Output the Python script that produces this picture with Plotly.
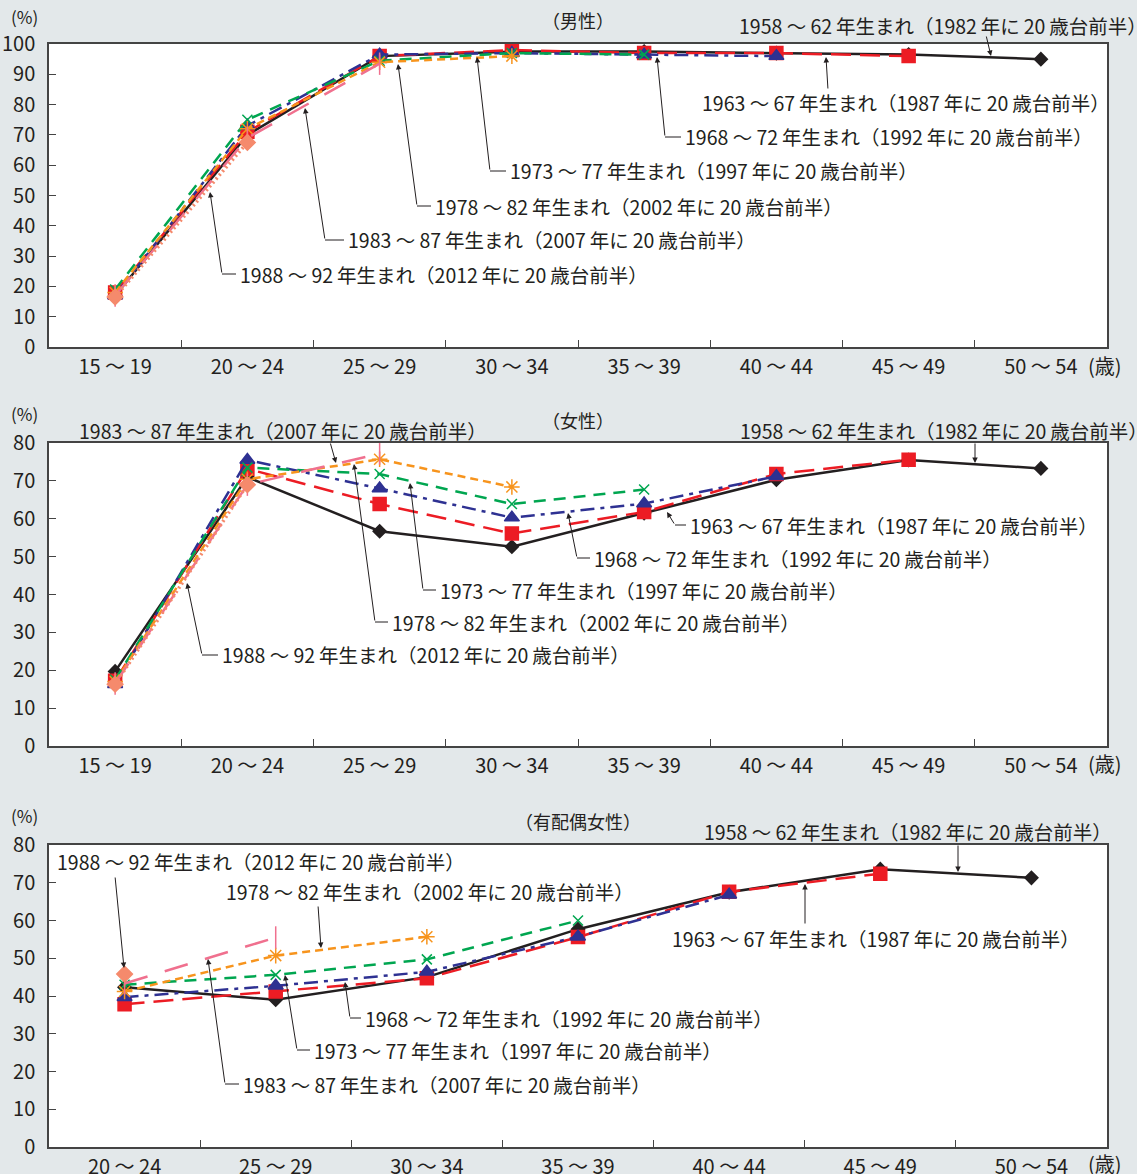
import plotly.graph_objects as go

# ---------------- data ----------------
ages8 = ["15 ～ 19", "20 ～ 24", "25 ～ 29", "30 ～ 34", "35 ～ 39", "40 ～ 44", "45 ～ 49", "50 ～ 54"]
ages7 = ages8[1:]

cohorts = ["1958 ～ 62", "1963 ～ 67", "1968 ～ 72", "1973 ～ 77", "1978 ～ 82", "1983 ～ 87", "1988 ～ 92"]
years20 = ["1982", "1987", "1992", "1997", "2002", "2007", "2012"]

N = None
male_1958 = [17, 70, 96, 97.5, 97.5, 97, 96.5, 95]
male_1963 = [18, 71, 96, 98, 97, 97, 96, N]
male_1968 = [17, 73, 96.5, 97, 96.5, 96, N, N]
male_1973 = [19, 75, 94.5, 97, 96.5, N, N, N]
male_1978 = [18, 72, 94, 96, N, N, N, N]
male_1983 = [17, 69, 93.5, N, N, N, N, N]
male_1988 = [16.5, 67.5, N, N, N, N, N, N]

female_1958 = [19.7, 71, 56.7, 52.6, 61.5, 70.3, 75.5, 73.3]
female_1963 = [17.2, 73.2, 63.9, 56.1, 61.8, 71.8, 75.6, N]
female_1968 = [16.3, 75.5, 68.0, 60.3, 64.0, 71.2, N, N]
female_1973 = [17.5, 73.5, 71.8, 63.9, 67.7, N, N, N]
female_1978 = [17.0, 70.4, 75.7, 68.4, N, N, N, N]
female_1983 = [16.5, 69.0, 77.2, N, N, N, N, N]
female_1988 = [16.3, 69.0, N, N, N, N, N, N]

married_1958 = [42.3, 39.0, 45.0, 57.7, 67.5, 73.6, 71.3]
married_1963 = [37.8, 41.2, 44.7, 55.6, 67.6, 72.4, N]
married_1968 = [39.7, 42.7, 46.4, 55.7, 66.8, N, N]
married_1973 = [43.0, 45.6, 49.7, 60.0, N, N, N]
married_1978 = [41.2, 50.7, 55.7, N, N, N, N]
married_1983 = [43.3, 55.5, N, N, N, N, N]
married_1988 = [45.8, N, N, N, N, N, N]

male = [male_1958, male_1963, male_1968, male_1973, male_1978, male_1983, male_1988]
female = [female_1958, female_1963, female_1968, female_1973, female_1978, female_1983, female_1988]
married = [married_1958, married_1963, married_1968, married_1973, married_1978, married_1983, married_1988]

# ---------------- styles ----------------
TXT = "#231f20"
BG = "#e3e8ea"
FONT = "Noto Sans CJK JP, Noto Sans, sans-serif"
colors = ["#231f20", "#ec1c24", "#2e3192", "#00a650", "#f7941d", "#f0708e", "#f58a6c"]
dashes = ["solid", "20px,9px", "14px,6px,4px,6px", "12px,8px", "8px,5px", "24px,18px", "2px,3px"]
widths = [2.5, 2.5, 2.5, 2.5, 2.5, 2.5, 3.5]
symbols = ["diamond", "square", "triangle-up", "x-thin-open", "asterisk-open", "line-ns-open", "diamond"]
msizes = [10, 13, 13, 10, 13, 16, 12]

def label(i):
    return cohorts[i] + "\u2009年生まれ（" + years20[i] + "\u2009年に\u200920\u2009歳台前半）"

fig = go.Figure()
panels = [(male, ages8, "x", "y"), (female, ages8, "x2", "y2"), (married, ages7, "x3", "y3")]
for data, cats, xa, ya in panels:
    for i, vals in enumerate(data):
        fig.add_trace(go.Scatter(
            x=cats, y=vals, xaxis=xa, yaxis=ya, mode="lines+markers",
            line=dict(color=colors[i], width=widths[i], dash=dashes[i]),
            marker=dict(symbol=symbols[i], size=msizes[i], color=colors[i],
                        line=dict(color=colors[i], width=1.5)),
            showlegend=False, hoverinfo="skip", connectgaps=False))

W, H = 1137, 1174
L, R, T, B = 49, 30, 44, 27
PW, PH = W - L - R, H - T - B

def px(x):
    return (x - L) / PW

def py(y):
    return (H - B - y) / PH

domains = [(py(347), py(44)), (py(746), py(443)), (py(1147), py(845))]

axis_common = dict(showgrid=False, zeroline=False, showline=True, linecolor="#444", linewidth=1.5,
                   mirror=True, ticks="inside", ticklen=7, tickcolor="#444", automargin=False,
                   tickfont=dict(family=FONT, size=20, color=TXT))
layout = dict(width=W, height=H, paper_bgcolor=BG, plot_bgcolor="white",
              margin=dict(l=L, r=R, t=T, b=B, autoexpand=False), showlegend=False,
              font=dict(family=FONT, color=TXT))
for k, (d, cats, ymax) in enumerate([(domains[0], ages8, 100), (domains[1], ages8, 80), (domains[2], ages7, 80)]):
    sx = "" if k == 0 else str(k + 1)
    layout["xaxis" + sx] = dict(axis_common, domain=[0, 1], anchor="y" + sx, type="category",
                                categoryorder="array", categoryarray=cats, tickson="boundaries",
                                range=[-0.5, len(cats) - 0.5], ticklabelstandoff=1)
    layout["yaxis" + sx] = dict(axis_common, domain=list(d), anchor="x" + sx, range=[0, ymax],
                                dtick=10, ticklabelstandoff=8)
fig.update_layout(**layout)

anns = []
shapes = []

def text(x, y, s, anchor="left", size=19.5):
    anns.append(dict(xref="paper", yref="paper", x=px(x), y=py(y), text=s, showarrow=False,
                     xanchor=anchor, yanchor="middle", font=dict(family=FONT, size=size, color=TXT)))

def arrow(tx, ty, hx, hy):
    anns.append(dict(xref="paper", yref="paper", x=px(hx), y=py(hy), ax=tx - hx, ay=ty - hy,
                     text="", showarrow=True, arrowhead=2, arrowsize=1.1, arrowwidth=1,
                     arrowcolor=TXT, standoff=0, startstandoff=0))

def elbow(i, text_x, text_y, corner_x, head_x, head_y):
    shapes.append(dict(type="line", xref="paper", yref="paper", x0=px(corner_x), x1=px(text_x - 2),
                       y0=py(text_y), y1=py(text_y), line=dict(color=TXT, width=1)))
    arrow(corner_x, text_y, head_x, head_y)
    text(text_x, text_y, label(i))

# panel titles / units
for (ty, title) in [(20, "（男性）"), (420, "（女性）"), (821, "（有配偶女性）")]:
    text(578, ty, title, anchor="center", size=18)
for ty in [16, 413, 815]:
    text(9, ty, "(%)", anchor="left", size=17)
for ty in [365, 763, 1163]:
    text(1086, ty, "(歳)", anchor="left", size=20)

# panel 1 (male)
text(737, 25, label(0)); arrow(986, 35, 991, 56)
text(700, 103, label(1)); arrow(828, 90, 826, 57)
elbow(2, 683, 137, 665, 657, 57)
elbow(3, 508, 171, 490, 477, 57)
elbow(4, 433, 206, 417, 398, 64)
elbow(5, 346, 240, 325, 305, 108)
elbow(6, 238, 274, 222, 210, 192)

# panel 2 (female)
text(77, 430, label(5)); arrow(330, 442, 336, 463)
text(738, 430, label(0)); arrow(975, 442, 975, 463)
elbow(1, 688, 525, 675, 667, 512)
elbow(2, 592, 558, 577, 568, 513)
elbow(3, 438, 590, 423, 410, 483)
elbow(4, 390, 622, 375, 354, 464)
elbow(6, 220, 655, 202, 187, 583)

# panel 3 (married female)
text(55, 862, label(6)); arrow(115, 876, 124, 968)
text(224, 892, label(4)); arrow(318, 905, 321, 948)
text(702, 831, label(0)); arrow(958, 844, 958, 872)
text(670, 938, label(1)); arrow(805, 925, 805, 884)
elbow(2, 363, 1018, 350, 345, 982)
elbow(3, 312, 1050, 297, 285, 975)
elbow(5, 241, 1084, 225, 208, 959)

fig.update_layout(annotations=anns, shapes=shapes)
fig.write_html("out.html", config={"displayModeBar": False},
               post_script="document.body.style.margin='0';")
